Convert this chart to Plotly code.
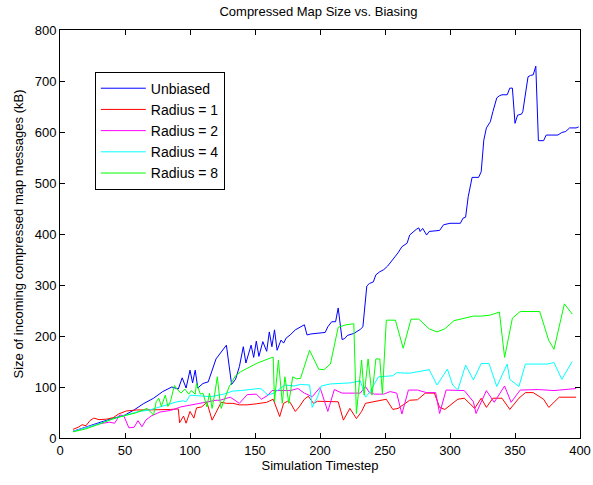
import plotly.graph_objects as go

# ---- data ----
unbiased_x = [10,20,30,40,50,57,64,72,79,86,91,94,97,100,102,104,106,110,114,120,128,132,135,138,141,143,147,149,151,153,156,159,161,163,165,167,170,172,174,177,181,188,190,193,200,204,206,209,212,214,217,219,221,226,231,233,236,238,241,243,246,249,252,255,258,260,263,267,269,272,274,276,277,279,282,284,288,292,295,300,308,310,312,314,317,322,324,325,326,328,331,333,336,338,340,344,346,348,350,352,355,356,358,360,362,364,366,368,372,374,383,386,389,392,397,399]
unbiased_y = [13,22,30,38,45,55,67,78,91,100,96,118,98,133,108,133,98,107,110,155,182,105,115,140,179,147,182,158,190,160,189,170,208,179,212,172,192,186,196,202,212,222,202,204,205,207,218,228,228,255,193,195,201,205,213,218,298,303,306,320,326,330,337,346,356,363,375,382,398,405,409,412,405,411,398,405,406,407,418,421,421,431,433,473,511,511,522,552,584,608,620,640,667,671,673,673,686,686,617,633,635,640,676,708,711,712,729,583,583,594,594,599,601,608,608,610]

r1_x = [10,14,17,20,23,26,30,36,41,45,51,59,67,77,85,91,92,95,97,100,103,105,109,113,117,120,124,128,133,138,144,151,159,164,169,172,175,177,181,184,188,191,195,198,205,214,218,223,228,232,235,241,249,251,256,260,264,269,275,281,288,292,296,306,311,319,324,328,333,340,346,353,358,364,372,376,384,397]
r1_y = [17,21,26,24,34,39,36,37,40,47,53,55,55,55,56,57,30,43,29,52,39,59,61,70,35,50,70,68,68,65,65,67,70,76,42,68,72,70,52,61,76,82,68,72,71,71,35,58,38,52,68,71,74,76,56,58,65,74,75,88,88,60,56,76,78,58,78,60,78,78,56,78,89,89,76,60,80,80]

r2_x = [10,20,28,38,42,46,49,53,57,60,63,66,70,77,85,93,103,110,120,123,131,138,144,151,155,160,163,170,177,183,188,194,200,206,211,217,231,235,238,242,249,254,259,263,268,275,282,289,292,297,311,318,320,328,334,342,347,354,368,380,397]
r2_y = [13,20,27,31,29,45,44,20,21,34,22,35,43,51,54,61,66,70,74,74,80,68,85,86,76,84,93,93,93,97,88,81,99,52,95,88,88,101,89,86,86,91,88,47,94,94,89,89,48,94,93,71,48,93,70,102,70,94,95,93,97]

r4_x = [10,20,30,40,49,59,69,73,82,90,95,97,100,108,116,126,133,139,153,155,160,165,169,173,180,185,192,194,198,201,208,218,223,227,231,235,238,245,249,256,259,269,284,290,298,302,306,312,318,324,330,336,344,346,353,358,375,380,386,394]
r4_y = [13,20,28,37,44,51,55,58,66,71,73,71,84,83,81,86,92,93,97,96,84,89,97,104,102,105,104,60,80,102,106,107,108,110,112,80,89,120,121,122,128,127,134,104,135,104,94,143,114,146,146,101,145,115,101,145,145,148,115,150]

r8_x = [10,20,30,40,50,58,64,67,72,74,76,78,81,83,85,88,90,93,96,99,101,104,105,108,110,113,115,117,119,121,123,124,130,135,139,143,151,162,164,165,168,171,173,176,179,182,185,192,199,203,208,214,220,226,228,232,234,237,240,243,246,248,251,258,264,270,276,284,290,296,303,318,324,331,338,342,348,354,369,376,380,388,394]
r8_y = [12,18,27,37,44,49,55,58,45,71,78,62,84,62,72,103,96,88,96,86,93,86,107,86,88,61,88,58,86,120,74,58,100,122,130,135,146,157,158,71,153,68,120,68,120,116,117,172,135,134,145,217,222,224,48,153,84,155,84,155,155,86,231,231,176,233,233,214,208,214,230,239,239,241,247,158,235,248,248,191,174,263,243]

names = ["Unbiased", "Radius = 1", "Radius = 2", "Radius = 4", "Radius = 8"]
xs = [unbiased_x, r1_x, r2_x, r4_x, r8_x]
ys = [unbiased_y, r1_y, r2_y, r4_y, r8_y]
colors = ["#0000FF", "#FF0000", "#FF00FF", "#00FFFF", "#00FF00"]

x_ticks = [0, 50, 100, 150, 200, 250, 300, 350, 400]
y_ticks = [0, 100, 200, 300, 400, 500, 600, 700, 800]

fig = go.Figure()
for n, x, y, c in zip(names, xs, ys, colors):
    fig.add_trace(go.Scatter(x=x, y=y, mode="lines", name=n,
                             line=dict(color=c, width=1)))

font = "Liberation Sans, Arial, Helvetica, sans-serif"
axis_common = dict(showline=True, linecolor="black", linewidth=1, mirror="ticks",
                   ticks="inside", ticklen=5, tickcolor="black", showgrid=False,
                   zeroline=False, automargin=False,
                   tickfont=dict(size=13, color="black", family=font))

fig.update_layout(
    width=593, height=485,
    margin=dict(l=60, r=13, t=30, b=47),
    paper_bgcolor="white", plot_bgcolor="white",
    font=dict(family=font, size=13, color="black"),
    title=dict(text="Compressed Map Size vs. Biasing", x=0.537, xanchor="center",
               y=0.977, yanchor="middle", font=dict(size=13, color="black", family=font)),
    xaxis=dict(range=[0, 400], tickvals=x_ticks,
               title=dict(text="Simulation Timestep", standoff=3, font=dict(size=13)),
               **axis_common),
    yaxis=dict(range=[0, 800], tickvals=y_ticks,
               title=dict(text="Size of incoming compressed map messages (kB)", standoff=8,
                          font=dict(size=13)),
               **axis_common),
    legend=dict(x=0.067, y=0.898, xanchor="left", yanchor="top",
                bordercolor="black", borderwidth=1, bgcolor="white",
                font=dict(size=14, color="black", family=font),
                itemwidth=45, tracegroupgap=0),
    showlegend=True,
)

fig.write_html("out.html")
